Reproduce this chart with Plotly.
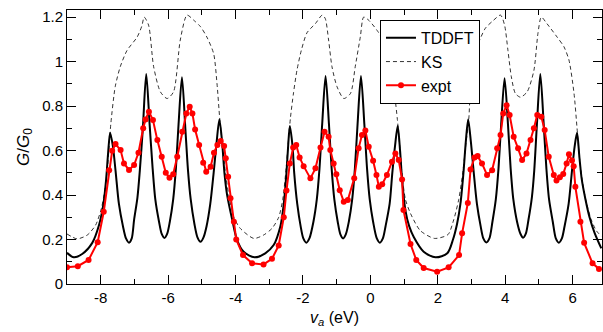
import plotly.graph_objects as go

# ---------------- data ----------------
tddft_x = [-9.00, -8.80, -8.55, -8.25, -8.05, -7.92, -7.84, -7.78, -7.72, -7.64, -7.56, -7.46, -7.34,
           -7.25, -7.16, -7.08,
           -7.01, -6.91, -6.84, -6.75, -6.65, -6.55, -6.46, -6.38, -6.27,
           -6.19, -6.11, -6.03,
           -5.95, -5.85, -5.77, -5.69, -5.59, -5.49, -5.41, -5.33, -5.22,
           -5.13, -5.04, -4.95,
           -4.86, -4.75, -4.65, -4.56, -4.48, -4.40, -4.33, -4.25, -4.10, -3.96, -3.76, -3.44, -3.12, -2.87,
           -2.67, -2.57, -2.49, -2.44, -2.39, -2.31, -2.26, -2.17, -2.07,
           -1.99, -1.90, -1.81,
           -1.69, -1.59, -1.51, -1.43, -1.33, -1.23, -1.15, -1.07, -0.97,
           -0.89, -0.81, -0.73,
           -0.64, -0.54, -0.46, -0.38, -0.28, -0.18, -0.10, -0.02, 0.08,
           0.19, 0.28, 0.37,
           0.45, 0.57, 0.65, 0.73, 0.81, 0.88, 0.94, 1.04, 1.15, 1.29, 1.58, 1.93, 2.28, 2.45,
           2.57, 2.67, 2.76, 2.83, 2.90, 2.98, 3.06, 3.16, 3.27,
           3.35, 3.44, 3.53,
           3.62, 3.72, 3.80, 3.88, 3.98, 4.08, 4.16, 4.24, 4.35,
           4.45, 4.53, 4.61,
           4.69, 4.79, 4.86, 4.94, 5.04, 5.14, 5.22, 5.30, 5.41,
           5.50, 5.59, 5.68,
           5.76, 5.88, 5.98, 6.06, 6.13, 6.20, 6.27, 6.38, 6.50, 6.65, 6.85]
tddft_y = [0.140, 0.120, 0.135, 0.185, 0.265, 0.360, 0.470, 0.590, 0.680, 0.620, 0.510, 0.360, 0.260,
           0.205, 0.186, 0.205,
           0.288, 0.390, 0.510, 0.700, 0.944, 0.720, 0.520, 0.380, 0.280,
           0.225, 0.207, 0.225,
           0.280, 0.380, 0.520, 0.720, 0.930, 0.700, 0.510, 0.380, 0.270,
           0.210, 0.190, 0.210,
           0.260, 0.360, 0.500, 0.640, 0.740, 0.640, 0.500, 0.400, 0.290, 0.200, 0.145, 0.120, 0.138, 0.175,
           0.260, 0.360, 0.500, 0.620, 0.710, 0.620, 0.500, 0.360, 0.260,
           0.205, 0.186, 0.205,
           0.280, 0.380, 0.520, 0.720, 0.935, 0.720, 0.520, 0.380, 0.280,
           0.223, 0.205, 0.223,
           0.280, 0.380, 0.520, 0.720, 0.935, 0.720, 0.520, 0.380, 0.280,
           0.205, 0.186, 0.205,
           0.260, 0.360, 0.500, 0.620, 0.710, 0.600, 0.470, 0.330, 0.260, 0.210, 0.145, 0.120, 0.138, 0.200,
           0.270, 0.360, 0.500, 0.640, 0.740, 0.640, 0.510, 0.360, 0.260,
           0.205, 0.187, 0.205,
           0.280, 0.380, 0.520, 0.720, 0.925, 0.720, 0.520, 0.380, 0.280,
           0.226, 0.208, 0.226,
           0.290, 0.390, 0.510, 0.720, 0.944, 0.720, 0.520, 0.380, 0.280,
           0.205, 0.186, 0.205,
           0.260, 0.360, 0.510, 0.620, 0.680, 0.570, 0.470, 0.380, 0.300, 0.230, 0.160]

ks_x = [-9.00, -8.70, -8.40, -8.15, -7.98, -7.88, -7.80, -7.75, -7.70, -7.57, -7.42, -7.22, -6.92, -6.78, -6.71,
        -6.58, -6.43, -6.23, -6.03, -5.84, -5.64, -5.44, -5.24, -5.04, -4.85, -4.65, -4.55, -4.47,
        -4.40, -4.30, -4.20, -4.05, -3.86, -3.46, -3.17, -2.92, -2.72, -2.60, -2.50, -2.43, -2.37,
        -2.28, -2.18, -2.05, -1.88, -1.63, -1.43, -1.34, -1.24, -1.14, -0.99, -0.79, -0.59, -0.45,
        -0.30, -0.20, -0.05, 0.20, 0.40, 0.52, 0.62, 0.72, 0.80, 0.87, 0.94, 1.04, 1.19, 1.48,
        1.90, 2.30, 2.47, 2.62, 2.74, 2.84, 2.92, 2.97, 3.05, 3.20, 3.41, 3.61, 3.86, 3.98, 4.08,
        4.18, 4.30, 4.45, 4.65, 4.85, 4.97, 5.07, 5.24, 5.54, 5.74, 5.89, 6.04, 6.13, 6.20, 6.30,
        6.40, 6.55, 6.70, 6.85]
ks_y = [0.225, 0.203, 0.220, 0.265, 0.340, 0.420, 0.520, 0.620, 0.720, 0.887, 0.977, 1.050, 1.110, 1.160, 1.200,
        1.164, 0.977, 0.864, 0.834, 0.864, 1.097, 1.209, 1.186, 1.157, 1.110, 1.036, 0.900, 0.745,
        0.640, 0.500, 0.400, 0.300, 0.250, 0.205, 0.220, 0.250, 0.300, 0.380, 0.520, 0.650, 0.750,
        0.860, 0.960, 1.050, 1.130, 1.171, 1.209, 1.194, 1.097, 0.977, 0.887, 0.834, 0.857, 0.977,
        1.110, 1.200, 1.186, 1.140, 1.090, 1.030, 0.950, 0.850, 0.740, 0.620, 0.490, 0.380, 0.317, 0.240,
        0.205, 0.222, 0.288, 0.380, 0.500, 0.640, 0.745, 0.887, 0.980, 1.080, 1.150, 1.180, 1.209, 1.164, 1.050,
        0.932, 0.857, 0.840, 0.864, 0.960, 1.127, 1.200, 1.170, 1.110, 1.067, 1.007, 0.857, 0.700, 0.570, 0.450,
        0.370, 0.290, 0.240, 0.215]

expt_x = [-9.00, -8.68, -8.36, -8.09, -7.91, -7.75, -7.66, -7.56, -7.41, -7.31, -7.16, -7.01, -6.88, -6.74,
          -6.67, -6.57, -6.45, -6.32, -6.19, -6.07, -5.96, -5.85, -5.73, -5.58, -5.46, -5.36, -5.28, -5.20,
          -5.08, -4.96, -4.87, -4.74, -4.64, -4.54, -4.44, -4.34, -4.29, -4.22, -4.15, -4.05, -3.98, -3.78,
          -3.51, -3.17, -2.92, -2.72, -2.57, -2.49, -2.39, -2.29, -2.20, -2.10, -1.98, -1.78, -1.63, -1.48,
          -1.36, -1.24, -1.19, -1.09, -1.01, -0.91, -0.79, -0.67, -0.48, -0.35, -0.25, -0.15, -0.05, 0.08,
          0.18, 0.25, 0.35, 0.49, 0.64, 0.74, 0.84, 0.94, 0.98, 1.19, 1.36, 1.58, 1.98, 2.32, 2.63, 2.72,
          2.89, 2.97, 3.09, 3.18, 3.31, 3.46, 3.61, 3.76, 3.86, 3.94, 4.04, 4.13, 4.25, 4.38, 4.50, 4.63,
          4.75, 4.85, 4.95, 5.07, 5.17, 5.29, 5.44, 5.52, 5.62, 5.72, 5.82, 5.89, 5.98, 6.03, 6.08, 6.23,
          6.34, 6.59, 6.78]
expt_y = [0.075, 0.080, 0.108, 0.188, 0.325, 0.512, 0.599, 0.629, 0.602, 0.542, 0.513, 0.535, 0.590, 0.700,
          0.740, 0.775, 0.737, 0.647, 0.572, 0.500, 0.478, 0.494, 0.572, 0.685, 0.767, 0.797, 0.767, 0.695,
          0.625, 0.545, 0.505, 0.527, 0.590, 0.625, 0.643, 0.620, 0.565, 0.482, 0.386, 0.280, 0.200, 0.130,
          0.093, 0.088, 0.113, 0.173, 0.300, 0.420, 0.542, 0.614, 0.625, 0.569, 0.530, 0.475, 0.520, 0.614,
          0.685, 0.662, 0.602, 0.542, 0.493, 0.422, 0.370, 0.378, 0.475, 0.610, 0.670, 0.690, 0.617, 0.554,
          0.490, 0.437, 0.449, 0.490, 0.550, 0.587, 0.557, 0.470, 0.333, 0.180, 0.108, 0.072, 0.055, 0.075,
          0.130, 0.228, 0.364, 0.515, 0.569, 0.575, 0.542, 0.490, 0.512, 0.610, 0.670, 0.767, 0.804, 0.760,
          0.662, 0.610, 0.557, 0.587, 0.647, 0.700, 0.760, 0.752, 0.692, 0.572, 0.490, 0.465, 0.480, 0.495,
          0.542, 0.583, 0.555, 0.530, 0.437, 0.280, 0.185, 0.093, 0.068]

x_tickvals = [-8, -6, -4, -2, 0, 2, 4, 6]
x_ticktext = ["-8", "-6", "-4", "-2", "0", "2", "4", "6"]
y_tickvals = [0, 0.2, 0.4, 0.6, 0.8, 1.0, 1.2]
y_ticktext = ["0", "0.2", "0.4", "0.6", "0.8", "1", "1.2"]

FONT = "Liberation Sans, Arial, Helvetica, sans-serif"

fig = go.Figure()
fig.add_trace(go.Scatter(x=tddft_x, y=tddft_y, mode="lines", name="TDDFT",
                         line=dict(color="black", width=2, shape="spline", smoothing=0.8)))
fig.add_trace(go.Scatter(x=ks_x, y=ks_y, mode="lines", name="KS",
                         line=dict(color="black", width=0.8, dash="4px,3px", shape="spline", smoothing=0.7)))
fig.add_trace(go.Scatter(x=expt_x, y=expt_y, mode="lines+markers", name="expt",
                         line=dict(color="#ff0000", width=2),
                         marker=dict(color="#ff0000", size=6, symbol="circle")))

axis_common = dict(showline=True, linecolor="black", linewidth=1, mirror="ticks",
                   ticks="inside", ticklen=9, tickwidth=1, tickcolor="black",
                   showgrid=False, zeroline=False,
                   tickfont=dict(family=FONT, size=15, color="black"))

fig.update_xaxes(range=[-9, 6.87], tickvals=x_tickvals, ticktext=x_ticktext,
                 minor=dict(ticks="inside", ticklen=5, dtick=1, tick0=0, tickcolor="black", showgrid=False),
                 title=dict(text="<i>v</i><sub><i>a</i></sub> (eV)", font=dict(family=FONT, size=16, color="black"),
                            standoff=6),
                 **axis_common)
fig.update_yaxes(range=[0, 1.232], tickvals=y_tickvals, ticktext=y_ticktext,
                 minor=dict(ticks="inside", ticklen=5, dtick=0.1, tick0=0, tickcolor="black", showgrid=False),
                 title=dict(text="<i>G</i>/<i>G</i><sub>0</sub>", font=dict(family=FONT, size=17, color="black"),
                            standoff=8),
                 **axis_common)

fig.update_layout(width=603, height=332, margin=dict(l=67, r=1, t=10, b=48),
                  plot_bgcolor="white", paper_bgcolor="white",
                  font=dict(family=FONT, color="black"),
                  legend=dict(x=0.585, y=0.964, xanchor="left", yanchor="top",
                              bordercolor="black", borderwidth=1, bgcolor="white",
                              font=dict(family=FONT, size=16, color="black"),
                              tracegroupgap=0))

fig.write_html("out.html")
